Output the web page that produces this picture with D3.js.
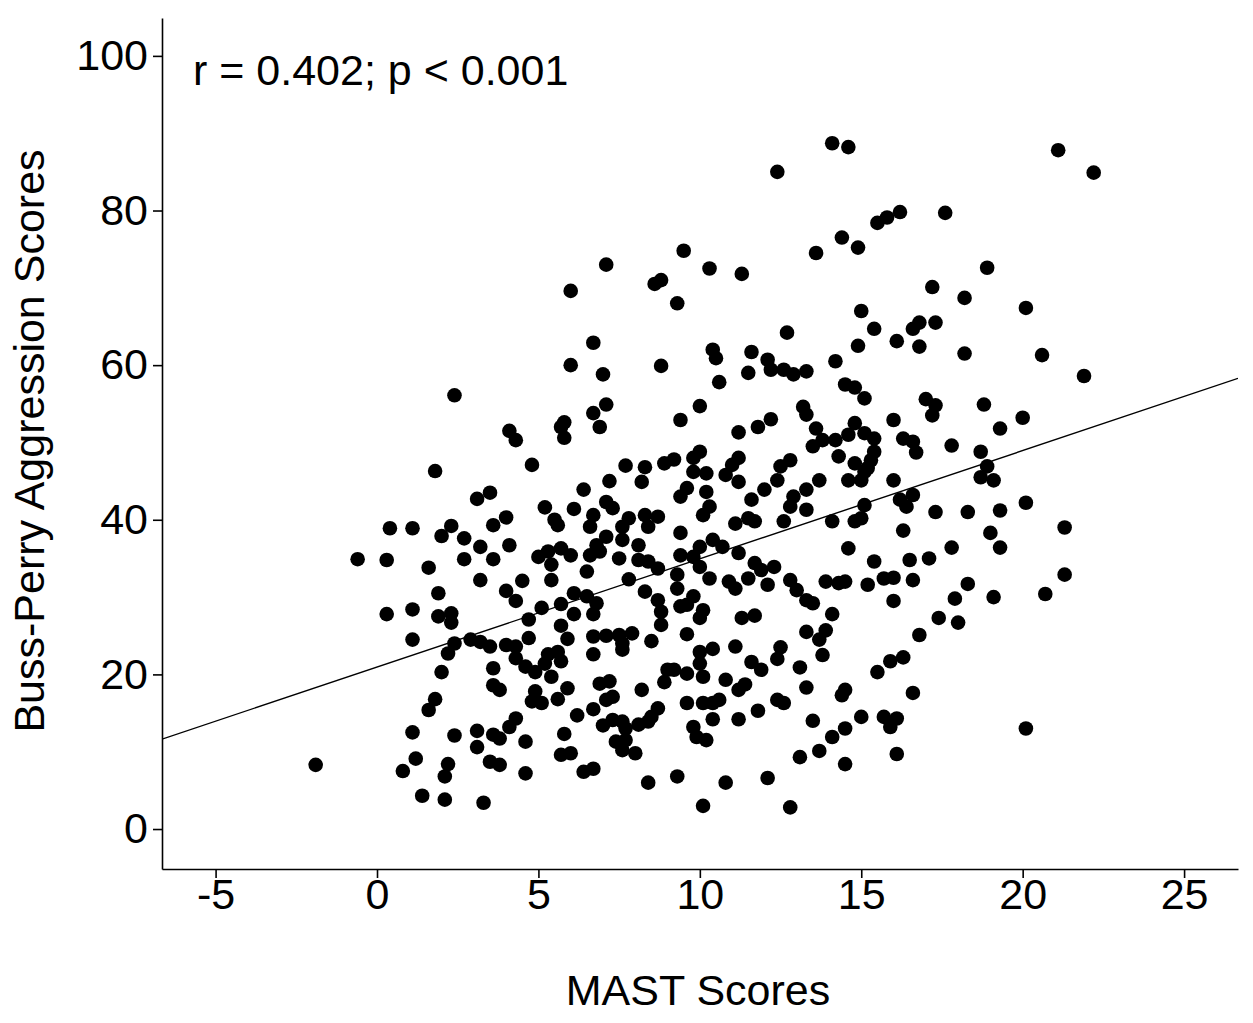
<!DOCTYPE html>
<html>
<head>
<meta charset="utf-8">
<script src="https://cdn.jsdelivr.net/npm/d3@7"></script>
<style>
  body { margin: 0; background: #fff; }
  text { font-family: "Liberation Sans", Arial, sans-serif; fill: #000; }
</style>
</head>
<body>
<div id="chart"></div>
<script>
// tick values of both axes
var xTicks = [-5, 0, 5, 10, 15, 20, 25];
var yTicks = [0, 20, 40, 60, 80, 100];

// fitted line: aggression = a + b * MAST
var fitIntercept = 20.95, fitSlope = 1.40;
var annotation = "r = 0.402; p < 0.001";

// [MAST score, Buss-Perry score] for every participant
var scores = [
  [9.5,74.8],[7.1,73.0],[6.0,69.6],[8.6,70.5],[8.8,71.0],[9.3,68.0],[6.7,62.9],[14.1,88.7],[14.6,88.2],[12.4,85.0],
  [15.5,78.4],[15.8,79.1],[16.2,79.8],[14.4,76.5],[14.9,75.2],[13.6,74.5],[10.3,72.5],[11.3,71.8],[15.0,67.0],[15.4,64.7],
  [16.1,63.1],[12.7,64.2],[14.9,62.5],[21.1,87.8],[22.2,84.9],[17.6,79.7],[18.9,72.6],[17.2,70.1],[18.2,68.7],[20.1,67.4],
  [16.8,65.5],[16.6,64.7],[17.3,65.5],[16.8,62.4],[18.2,61.5],[20.6,61.3],
  [2.4,56.1],[1.8,46.3],[3.1,42.7],[3.5,43.5],[0.4,38.9],[1.1,38.9],[2.3,39.2],[2.0,37.9],[2.7,37.6],[3.6,39.3],
  [3.2,36.5],[-0.6,34.9],[0.3,34.8],[1.6,33.8],[2.7,34.9],[3.6,34.9],[3.2,32.2],
  [6.0,60.0],[7.0,58.8],[8.8,59.9],[9.4,52.9],[4.1,51.5],[4.3,50.3],[5.8,52.6],[5.7,52.0],[5.8,50.6],[6.7,53.8],
  [7.1,54.9],[6.9,52.0],[4.8,47.1],[7.7,47.0],[8.3,46.8],[8.9,47.3],[9.2,47.8],[9.4,43.0],[9.6,44.1],[7.2,45.0],
  [8.2,44.9],[6.4,43.9],[5.2,41.6],[6.1,41.4],[7.1,42.3],[7.3,41.5],[4.0,40.3],[5.5,40.0],[5.6,39.3],[6.7,40.6],
  [6.6,39.1],[7.8,40.2],[7.6,39.1],[8.3,40.6],[8.7,40.4],[8.4,39.1],[9.4,38.3],[4.1,36.7],[5.0,35.2],[5.3,35.9],
  [5.7,36.3],[6.0,35.4],[5.4,34.2],[7.1,37.8],[6.8,36.7],[6.6,35.4],[6.9,35.9],[7.6,37.4],[7.5,35.0],[8.1,36.7],
  [8.1,34.8],[8.4,34.6],[8.7,33.7],[9.4,35.4],[9.8,35.2],[6.5,33.3],[9.3,32.9],
  [10.4,62.0],[10.5,60.9],[11.6,61.7],[12.1,60.7],[12.2,59.4],[12.6,59.4],[12.9,58.8],[13.3,59.2],[11.5,59.0],[14.2,60.5],
  [10.6,57.8],[14.5,57.5],[14.8,57.1],[15.1,55.7],[10.0,54.7],[13.2,54.6],[13.3,53.6],[12.2,53.0],[11.8,52.0],[11.2,51.3],
  [13.6,51.8],[13.8,50.3],[13.5,49.5],[14.2,50.3],[14.6,51.0],[14.8,52.5],[15.1,51.2],[15.4,50.5],[15.4,48.8],[15.3,47.7],
  [14.3,48.2],[14.8,47.3],[15.1,46.2],[15.2,46.7],[14.6,45.1],[15.0,45.1],[10.0,48.8],[9.8,48.0],[9.8,46.2],[11.2,48.0],
  [11.0,47.1],[10.8,45.8],[11.2,44.9],[10.2,46.0],[12.8,47.7],[12.5,46.9],[12.4,45.1],[13.7,45.1],[12.0,43.9],[10.2,43.6],
  [11.6,42.6],[13.3,43.9],[12.9,43.0],[12.8,41.7],[13.3,41.3],[15.1,41.9],[10.3,41.7],[10.1,40.6],[11.1,39.5],[11.5,40.2],
  [11.7,39.8],[12.6,39.8],[14.1,39.8],[14.8,39.8],[15.0,40.2],[10.4,37.4],[10.0,36.5],[10.7,36.5],[11.2,35.7],[14.6,36.3],
  [10.0,33.9],[11.7,34.4],[11.9,33.5],[12.3,33.9],[15.4,34.6],
  [21.9,58.6],[17.0,55.6],[17.3,54.8],[17.2,53.5],[18.8,54.9],[20.0,53.2],[16.0,52.9],[19.3,51.8],[16.3,50.5],[16.6,50.1],
  [16.7,48.7],[17.8,49.6],[18.7,48.8],[18.9,46.9],[18.7,45.5],[19.1,45.1],[16.0,45.1],[16.2,42.6],[16.6,43.2],[16.4,41.7],
  [17.3,41.0],[18.3,41.0],[19.3,41.2],[20.1,42.2],[16.3,38.6],[19.0,38.3],[21.3,39.0],[17.8,36.4],[19.3,36.4],[16.5,34.8],
  [17.1,35.0],
  [1.9,30.5],[0.3,27.8],[1.1,28.4],[1.9,27.5],[2.3,27.9],[2.3,26.7],[1.1,24.5],[2.4,24.0],[2.2,22.7],[2.9,24.5],
  [3.2,24.2],[3.5,23.6],[2.0,20.3],[3.6,20.8],[3.6,18.6],[1.8,16.8],[1.6,15.4],[1.1,12.5],[2.4,12.1],[3.1,12.7],
  [3.6,12.2],[3.1,10.6],[-1.9,8.3],[1.2,9.1],[0.8,7.5],[2.2,8.4],[2.1,6.8],[3.5,8.7],[1.4,4.3],[2.1,3.8],
  [3.3,3.4],
  [4.5,32.1],[5.4,32.2],[7.8,32.3],[4.0,30.8],[4.3,29.5],[6.1,30.5],[5.7,29.1],[5.1,28.6],[6.1,27.8],[6.5,30.1],
  [6.8,29.2],[6.7,27.8],[8.3,30.7],[8.7,29.6],[8.8,28.1],[8.8,26.4],[9.3,31.1],[9.6,29.0],[9.4,28.8],[4.7,27.1],
  [5.7,26.3],[5.9,24.6],[4.7,24.7],[4.0,23.8],[4.3,23.6],[6.7,24.9],[7.1,25.0],[7.5,25.1],[7.6,24.0],[7.6,23.2],
  [7.9,25.3],[8.5,24.3],[9.6,25.2],[6.7,22.6],[4.3,22.1],[4.6,21.0],[4.9,20.3],[5.2,21.4],[5.3,22.6],[5.6,22.9],
  [5.7,21.7],[5.4,19.7],[9.0,20.6],[9.2,20.6],[8.9,19.0],[9.6,20.1],[6.9,18.8],[7.2,19.1],[7.3,17.1],[7.1,16.7],
  [8.2,18.0],[3.8,18.0],[4.9,17.8],[4.8,16.5],[5.1,16.3],[5.9,18.2],[5.6,16.8],[6.7,15.5],[6.2,14.7],[9.6,16.3],
  [8.7,15.6],[8.5,14.5],[8.4,13.9],[8.1,13.5],[7.0,13.4],[7.3,14.1],[7.6,13.9],[7.7,13.0],[4.3,14.3],[4.1,13.2],
  [3.8,11.7],[4.6,11.3],[5.8,12.3],[7.4,11.3],[7.7,11.5],[7.6,10.2],[8.0,9.8],[5.7,9.6],[6.0,9.8],[3.8,8.3],
  [4.6,7.2],[6.4,7.4],[6.7,7.8],[8.4,6.0],[9.3,6.8],
  [10.3,32.4],[10.9,32.0],[11.1,31.1],[11.5,32.4],[12.1,31.6],[12.8,32.2],[13.0,30.9],[13.3,29.6],[13.5,29.2],[13.9,32.0],
  [14.3,31.8],[14.5,32.0],[15.2,31.6],[9.8,30.1],[10.1,28.3],[10.0,27.3],[11.3,27.3],[11.7,27.6],[14.1,27.8],[13.3,25.5],
  [13.7,24.5],[13.9,25.7],[13.8,22.5],[11.1,23.6],[10.0,22.9],[10.4,23.3],[10.0,21.4],[10.1,19.7],[12.5,23.5],[12.4,22.0],
  [11.6,21.6],[11.9,20.6],[13.1,20.9],[15.5,20.3],[10.8,19.3],[11.4,18.7],[11.2,18.0],[13.3,18.3],[14.5,18.0],[14.4,17.3],
  [10.1,16.3],[10.4,16.3],[10.6,16.7],[12.4,16.7],[12.6,16.3],[11.8,15.3],[10.4,14.2],[11.2,14.2],[13.5,14.0],[15.0,14.5],
  [15.7,14.5],[9.8,13.2],[9.9,11.9],[10.2,11.5],[14.5,13.0],[14.1,11.9],[13.7,10.1],[13.1,9.3],[14.5,8.4],[10.8,6.0],
  [12.1,6.6],[10.1,3.0],[12.8,2.8],
  [15.7,32.4],[16.0,32.5],[16.6,32.2],[18.3,31.7],[21.3,32.9],[16.0,29.5],[17.9,29.8],[19.1,30.0],[20.7,30.4],[17.4,27.3],
  [18.0,26.7],[16.8,25.1],[15.9,21.7],[16.3,22.2],[16.6,17.6],[16.1,14.3],[15.9,13.2],[20.1,13.0],[16.1,9.7]
];

var width = 1253, height = 1023;
var plot = {left: 162, right: 1238, top: 18, bottom: 869};

var svg = d3.select("#chart")
  .append("svg")
    .attr("width", width)
    .attr("height", height);

var x = d3.scaleLinear()
  .domain([-6.66, 26.67])
  .range([plot.left, plot.right]);

var y = d3.scaleLinear()
  .domain([-5.17, 104.9])
  .range([plot.bottom, plot.top]);

svg.append("clipPath")
    .attr("id", "plotArea")
  .append("rect")
    .attr("x", plot.left)
    .attr("y", plot.top)
    .attr("width", plot.right - plot.left)
    .attr("height", plot.bottom - plot.top);

// points
svg.append("g")
  .selectAll("circle")
  .data(scores)
  .enter()
  .append("circle")
    .attr("cx", function(d) { return x(d[0]); })
    .attr("cy", function(d) { return y(d[1]); })
    .attr("r", 7.3)
    .style("fill", "#000");

// fit line across the whole x range
var fitLine = d3.line()
  .x(function(d) { return x(d); })
  .y(function(d) { return y(fitIntercept + fitSlope * d); });

svg.append("path")
  .datum(x.domain())
  .attr("d", fitLine)
  .attr("clip-path", "url(#plotArea)")
  .style("fill", "none")
  .style("stroke", "#000")
  .style("stroke-width", 1.4);

// axes
var xAxis = svg.append("g")
  .attr("transform", "translate(0," + plot.bottom + ")")
  .call(d3.axisBottom(x).tickValues(xTicks).tickFormat(function(d) { return String(d); })
    .tickSize(9).tickSizeOuter(0).tickPadding(0));

var yAxis = svg.append("g")
  .attr("transform", "translate(" + plot.left + ",0)")
  .call(d3.axisLeft(y).tickValues(yTicks).tickFormat(function(d) { return String(d); })
    .tickSize(9).tickSizeOuter(0).tickPadding(5));

[xAxis, yAxis].forEach(function(g) {
  g.selectAll("path, line").style("stroke", "#000").style("stroke-width", 1.6);
  g.selectAll("text")
    .style("font-family", "'Liberation Sans', Arial, sans-serif")
    .style("font-size", "43px")
    .style("fill", "#000");
});

// axis titles and annotation
svg.append("text")
  .attr("x", 698)
  .attr("y", 1005)
  .style("text-anchor", "middle")
  .style("font-size", "43px")
  .text("MAST Scores");

svg.append("text")
  .attr("transform", "translate(44,441) rotate(-90)")
  .style("text-anchor", "middle")
  .style("font-size", "43px")
  .text("Buss-Perry Aggression Scores");

svg.append("text")
  .attr("x", 193)
  .attr("y", 85)
  .style("font-size", "43px")
  .text(annotation);
</script>
</body>
</html>
